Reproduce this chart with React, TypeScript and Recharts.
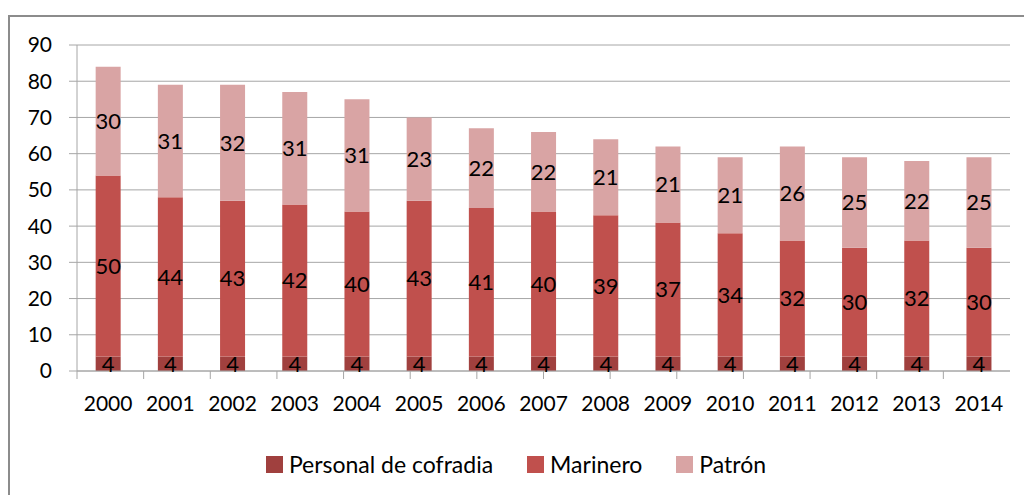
import { Bar, BarChart, CartesianGrid, LabelList, Legend, XAxis, YAxis } from "recharts";

const years = ["2000", "2001", "2002", "2003", "2004", "2005", "2006", "2007", "2008", "2009", "2010", "2011", "2012", "2013", "2014"];
const personal = [4, 4, 4, 4, 4, 4, 4, 4, 4, 4, 4, 4, 4, 4, 4];
const marinero = [50, 44, 43, 42, 40, 43, 41, 40, 39, 37, 34, 32, 30, 32, 30];
const patron = [30, 31, 32, 31, 31, 23, 22, 22, 21, 21, 21, 26, 25, 22, 25];
const yTicks = [0, 10, 20, 30, 40, 50, 60, 70, 80, 90];

const series = [
  { key: "personal", name: "Personal de cofradia", color: "#A0403E" },
  { key: "marinero", name: "Marinero", color: "#C0504D" },
  { key: "patron", name: "Patrón", color: "#D9A4A4" },
];

const data = years.map((year, i) => ({
  year,
  personal: personal[i],
  marinero: marinero[i],
  patron: patron[i],
}));

// tick marks between categories, like Excel
const edges = [...years.map((_, i) => i), years.length];

const FONT = "Lato, 'Open Sans', sans-serif";
const GRID = "#A6A6A6";

function ChartLegend() {
  return (
    <div
      style={{
        height: 40,
        display: "flex",
        justifyContent: "center",
        alignItems: "center",
        fontFamily: FONT,
        fontSize: 23,
        color: "#000",
        paddingLeft: 22,
      }}
    >
      {series.map((s, i) => (
        <div
          key={s.key}
          style={{ display: "flex", alignItems: "center", marginLeft: i === 0 ? 0 : 34 }}
        >
          <span
            style={{ width: 17, height: 17, background: s.color, marginRight: 6, display: "inline-block" }}
          />
          <span>{s.name}</span>
        </div>
      ))}
    </div>
  );
}

export default function App() {
  return (
    <div
      style={{
        position: "fixed",
        left: 0,
        top: 0,
        width: 1024,
        height: 495,
        background: "#fff",
        overflow: "hidden",
      }}
    >
      <div
        style={{
          position: "absolute",
          left: 8,
          top: 15,
          width: 1040,
          height: 520,
          border: "2px solid #8C8C8C",
          boxSizing: "border-box",
        }}
      />
      <BarChart
        width={1024}
        height={495}
        data={data}
        margin={{ top: 45, right: 14, left: 0, bottom: 11 }}
        barCategoryGap="30%"
        style={{ position: "absolute", left: 0, top: 0 }}
      >
        <CartesianGrid xAxisId="b" vertical={false} stroke={GRID} strokeWidth={1} />
        <XAxis
          xAxisId="a"
          type="number"
          domain={[0, years.length]}
          ticks={edges}
          allowDataOverflow
          height={1}
          tick={() => <g />}
          tickSize={8}
          tickLine={{ stroke: GRID }}
          axisLine={{ stroke: GRID }}
        />
        <XAxis
          xAxisId="b"
          dataKey="year"
          height={72}
          interval={0}
          tickLine={false}
          axisLine={false}
          tickSize={8}
          tickMargin={16}
          tick={{ fill: "#000", fontSize: 21, fontFamily: FONT }}
        />
        <YAxis
          width={77}
          domain={[0, 90]}
          ticks={yTicks}
          interval={0}
          tickSize={8}
          tickMargin={17}
          tickLine={{ stroke: GRID }}
          axisLine={{ stroke: GRID }}
          tick={{ fill: "#000", fontSize: 21, fontFamily: FONT }}
        />
        <Legend verticalAlign="bottom" content={() => <ChartLegend />} />
        {series.map((s) => (
          <Bar
            key={s.key}
            xAxisId="b"
            dataKey={s.key}
            name={s.name}
            stackId="a"
            fill={s.color}
            isAnimationActive={false}
          >
            <LabelList
              dataKey={s.key}
              position="center"
              fill="#000"
              fontSize={22}
              fontFamily={FONT}
            />
          </Bar>
        ))}
      </BarChart>
    </div>
  );
}
